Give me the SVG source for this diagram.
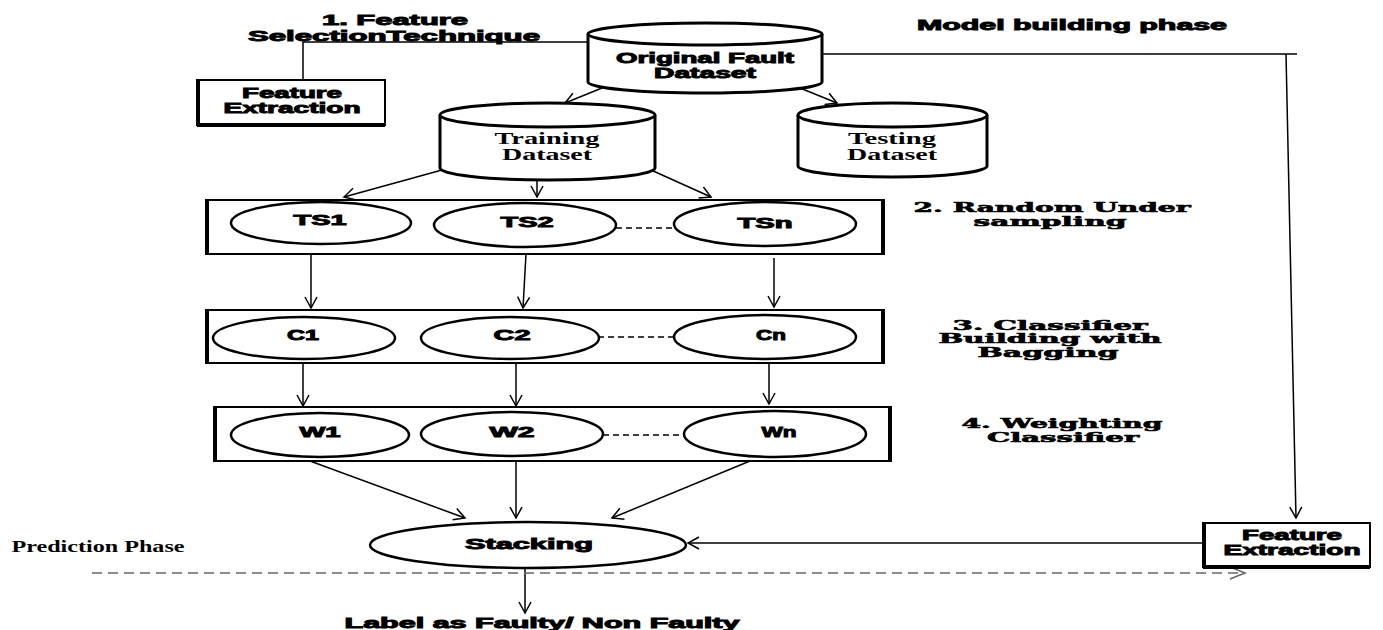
<svg xmlns="http://www.w3.org/2000/svg" width="1383" height="630" viewBox="0 0 1383 630">
<style>
.sb{font-family:"Liberation Sans",Arial,sans-serif;font-weight:bold;font-size:14px;fill:#000;stroke:#000;stroke-width:0.9px;text-anchor:middle}
.hs{font-family:"DejaVu Serif","Liberation Serif",serif;font-weight:bold;font-size:13px;fill:#000;stroke:#000;stroke-width:0.6px;text-anchor:middle}
.ts{font-family:"Liberation Serif","Times New Roman",serif;font-weight:bold;font-size:16px;fill:#000;text-anchor:middle}
.cyl{fill:#fff;stroke:#000;stroke-width:3}
.ell{fill:#fff;stroke:#000;stroke-width:2.5}
.box{fill:#fff;stroke:#000;stroke-width:2}
.thick{stroke:#000;stroke-width:4;fill:none}
.ln{stroke:#000;stroke-width:1.5;fill:none}
.arw{stroke:#000;stroke-width:1.5;fill:none;marker-end:url(#open)}
.dsh{stroke:#000;stroke-width:1.5;fill:none;stroke-dasharray:6 4}
</style>
<defs>
<marker id="open" markerUnits="userSpaceOnUse" markerWidth="16" markerHeight="16" refX="12" refY="7" orient="auto">
<path d="M1,1 L12,7 L1,13" fill="none" stroke="#000" stroke-width="1.5"/>
</marker>
<marker id="openg" markerUnits="userSpaceOnUse" markerWidth="20" markerHeight="16" refX="16" refY="7" orient="auto">
<path d="M1,1 L16,7 L1,13" fill="none" stroke="#666" stroke-width="1.5"/>
</marker>
</defs>
<rect width="1383" height="630" fill="#fff"/>

<g id="labels">
<text class="sb" x="395" y="25" textLength="146" lengthAdjust="spacingAndGlyphs">1. Feature</text>
<text class="sb" x="394" y="41" textLength="292" lengthAdjust="spacingAndGlyphs">SelectionTechnique</text>
<text class="sb" x="1072" y="30" font-size="13" textLength="310" lengthAdjust="spacingAndGlyphs">Model building phase</text>
<text class="hs" x="1052" y="212" textLength="277" lengthAdjust="spacingAndGlyphs">2. Random Under</text>
<text class="hs" x="1050" y="226" textLength="153" lengthAdjust="spacingAndGlyphs">sampling</text>
<text class="hs" x="1050" y="330" textLength="195" lengthAdjust="spacingAndGlyphs">3. Classifier</text>
<text class="hs" x="1050" y="343" textLength="223" lengthAdjust="spacingAndGlyphs">Building with</text>
<text class="hs" x="1048" y="357" textLength="141" lengthAdjust="spacingAndGlyphs">Bagging</text>
<text class="hs" x="1062" y="428" textLength="201" lengthAdjust="spacingAndGlyphs">4. Weighting</text>
<text class="hs" x="1063" y="442" textLength="152" lengthAdjust="spacingAndGlyphs">Classifier</text>
<text class="ts" x="98" y="552" font-size="14" textLength="173" lengthAdjust="spacingAndGlyphs">Prediction Phase</text>
<text class="sb" x="542" y="628" font-size="15" textLength="395" lengthAdjust="spacingAndGlyphs">Label as Faulty/ Non Faulty</text>
</g>

<g id="connectors">
<polyline class="ln" points="303,80 303,42 588,42"/>
<polyline class="ln" points="822,54 1297,54"/>
<line class="arw" x1="1286" y1="54" x2="1296" y2="518"/>
<line class="arw" x1="602" y1="88" x2="565" y2="103"/>
<line class="arw" x1="800" y1="88" x2="837" y2="103"/>
<line class="arw" x1="442" y1="170" x2="344" y2="197"/>
<line class="arw" x1="537" y1="178" x2="537" y2="197"/>
<line class="arw" x1="651" y1="170" x2="711" y2="197"/>
<line class="arw" x1="311" y1="254" x2="311" y2="308"/>
<line class="arw" x1="526" y1="254" x2="523" y2="308"/>
<line class="arw" x1="774" y1="258" x2="774" y2="307"/>
<line class="arw" x1="303" y1="363" x2="303" y2="406"/>
<line class="arw" x1="516" y1="363" x2="516" y2="406"/>
<line class="arw" x1="769" y1="363" x2="769" y2="404"/>
<line class="arw" x1="310" y1="461" x2="465" y2="518"/>
<line class="arw" x1="516" y1="461" x2="516" y2="518"/>
<line class="arw" x1="750" y1="461" x2="612" y2="518"/>
<line class="arw" x1="1203" y1="543" x2="688" y2="543"/>
<line class="arw" x1="525" y1="568" x2="525" y2="613"/>
<line x1="92" y1="573" x2="1245" y2="573" stroke="#666" stroke-width="1.5" stroke-dasharray="10 6" marker-end="url(#openg)"/>
</g>

<g id="fe-top">
<rect class="box" x="197" y="80" width="188" height="45"/>
<line class="thick" x1="198" y1="80" x2="198" y2="126"/>
<line class="thick" x1="197" y1="125" x2="385" y2="125"/>
<text class="sb" x="292" y="98" textLength="100" lengthAdjust="spacingAndGlyphs">Feature</text>
<text class="sb" x="292" y="113" textLength="137" lengthAdjust="spacingAndGlyphs">Extraction</text>
</g>

<g id="original">
<path class="cyl" d="M588,34 A117,11 0 0 1 822,34 L822,82 A117,11 0 0 1 588,82 Z"/>
<path class="cyl" d="M588,34 A117,11 0 0 0 822,34" fill="none"/>
<text class="sb" x="705" y="63" textLength="178" lengthAdjust="spacingAndGlyphs">Original Fault</text>
<text class="sb" x="705" y="78" textLength="102" lengthAdjust="spacingAndGlyphs">Dataset</text>
</g>

<g id="training">
<path class="cyl" d="M440,115 A107.5,12 0 0 1 655,115 L655,168 A107.5,12 0 0 1 440,168 Z"/>
<path class="cyl" d="M440,115 A107.5,12 0 0 0 655,115" fill="none"/>
<text class="ts" x="547" y="144" textLength="105" lengthAdjust="spacingAndGlyphs">Training</text>
<text class="ts" x="547" y="160" textLength="90" lengthAdjust="spacingAndGlyphs">Dataset</text>
</g>

<g id="testing">
<path class="cyl" d="M798,115 A94.5,12 0 0 1 987,115 L987,166 A94.5,11 0 0 1 798,166 Z"/>
<path class="cyl" d="M798,115 A94.5,12 0 0 0 987,115" fill="none"/>
<text class="ts" x="892" y="144" textLength="88" lengthAdjust="spacingAndGlyphs">Testing</text>
<text class="ts" x="892" y="160" textLength="90" lengthAdjust="spacingAndGlyphs">Dataset</text>
</g>

<g id="ts-group">
<rect class="box" x="206" y="200" width="678" height="54"/>
<line class="thick" x1="207" y1="200" x2="207" y2="255"/>
<line class="thick" x1="883" y1="200" x2="883" y2="255"/>
<line class="dsh" x1="616" y1="228" x2="674" y2="228"/>
<ellipse class="ell" cx="321" cy="223" rx="90" ry="21"/>
<text class="sb" x="320" y="225" textLength="53" lengthAdjust="spacingAndGlyphs">TS1</text>
<ellipse class="ell" cx="525" cy="225" rx="91" ry="22"/>
<text class="sb" x="527" y="227" textLength="53" lengthAdjust="spacingAndGlyphs">TS2</text>
<ellipse class="ell" cx="765" cy="224" rx="91" ry="22"/>
<text class="sb" x="765" y="228" textLength="55" lengthAdjust="spacingAndGlyphs">TSn</text>
</g>

<g id="c-group">
<rect class="box" x="206" y="310" width="678" height="53"/>
<line class="thick" x1="207" y1="310" x2="207" y2="364"/>
<line class="thick" x1="883" y1="310" x2="883" y2="364"/>
<line class="dsh" x1="598" y1="337" x2="674" y2="337"/>
<ellipse class="ell" cx="304" cy="338" rx="91" ry="21"/>
<text class="sb" x="303" y="340" textLength="32" lengthAdjust="spacingAndGlyphs">C1</text>
<ellipse class="ell" cx="510" cy="338" rx="89" ry="21"/>
<text class="sb" x="512" y="340" textLength="37" lengthAdjust="spacingAndGlyphs">C2</text>
<ellipse class="ell" cx="765" cy="337" rx="91" ry="22"/>
<text class="sb" x="771" y="340" textLength="30" lengthAdjust="spacingAndGlyphs">Cn</text>
</g>

<g id="w-group">
<rect class="box" x="214" y="407" width="677" height="54"/>
<line class="thick" x1="215" y1="407" x2="215" y2="462"/>
<line class="thick" x1="890" y1="407" x2="890" y2="462"/>
<line class="dsh" x1="603" y1="435" x2="684" y2="435"/>
<ellipse class="ell" cx="320" cy="435" rx="89" ry="22"/>
<text class="sb" x="320" y="437" textLength="41" lengthAdjust="spacingAndGlyphs">W1</text>
<ellipse class="ell" cx="512" cy="434" rx="91" ry="22"/>
<text class="sb" x="512" y="437" textLength="45" lengthAdjust="spacingAndGlyphs">W2</text>
<ellipse class="ell" cx="775" cy="434" rx="91" ry="23"/>
<text class="sb" x="779" y="437" textLength="35" lengthAdjust="spacingAndGlyphs">Wn</text>
</g>

<g id="stacking">
<ellipse class="ell" cx="528" cy="545" rx="158" ry="23" stroke-width="3"/>
<text class="sb" x="529" y="549" textLength="128" lengthAdjust="spacingAndGlyphs">Stacking</text>
</g>

<g id="fe-right">
<rect class="box" x="1203" y="523" width="167" height="44"/>
<line class="thick" x1="1204" y1="523" x2="1204" y2="568"/>
<line class="thick" x1="1203" y1="567" x2="1370" y2="567"/>
<text class="sb" x="1292" y="540" textLength="100" lengthAdjust="spacingAndGlyphs">Feature</text>
<text class="sb" x="1292" y="555" textLength="137" lengthAdjust="spacingAndGlyphs">Extraction</text>
</g>
</svg>
